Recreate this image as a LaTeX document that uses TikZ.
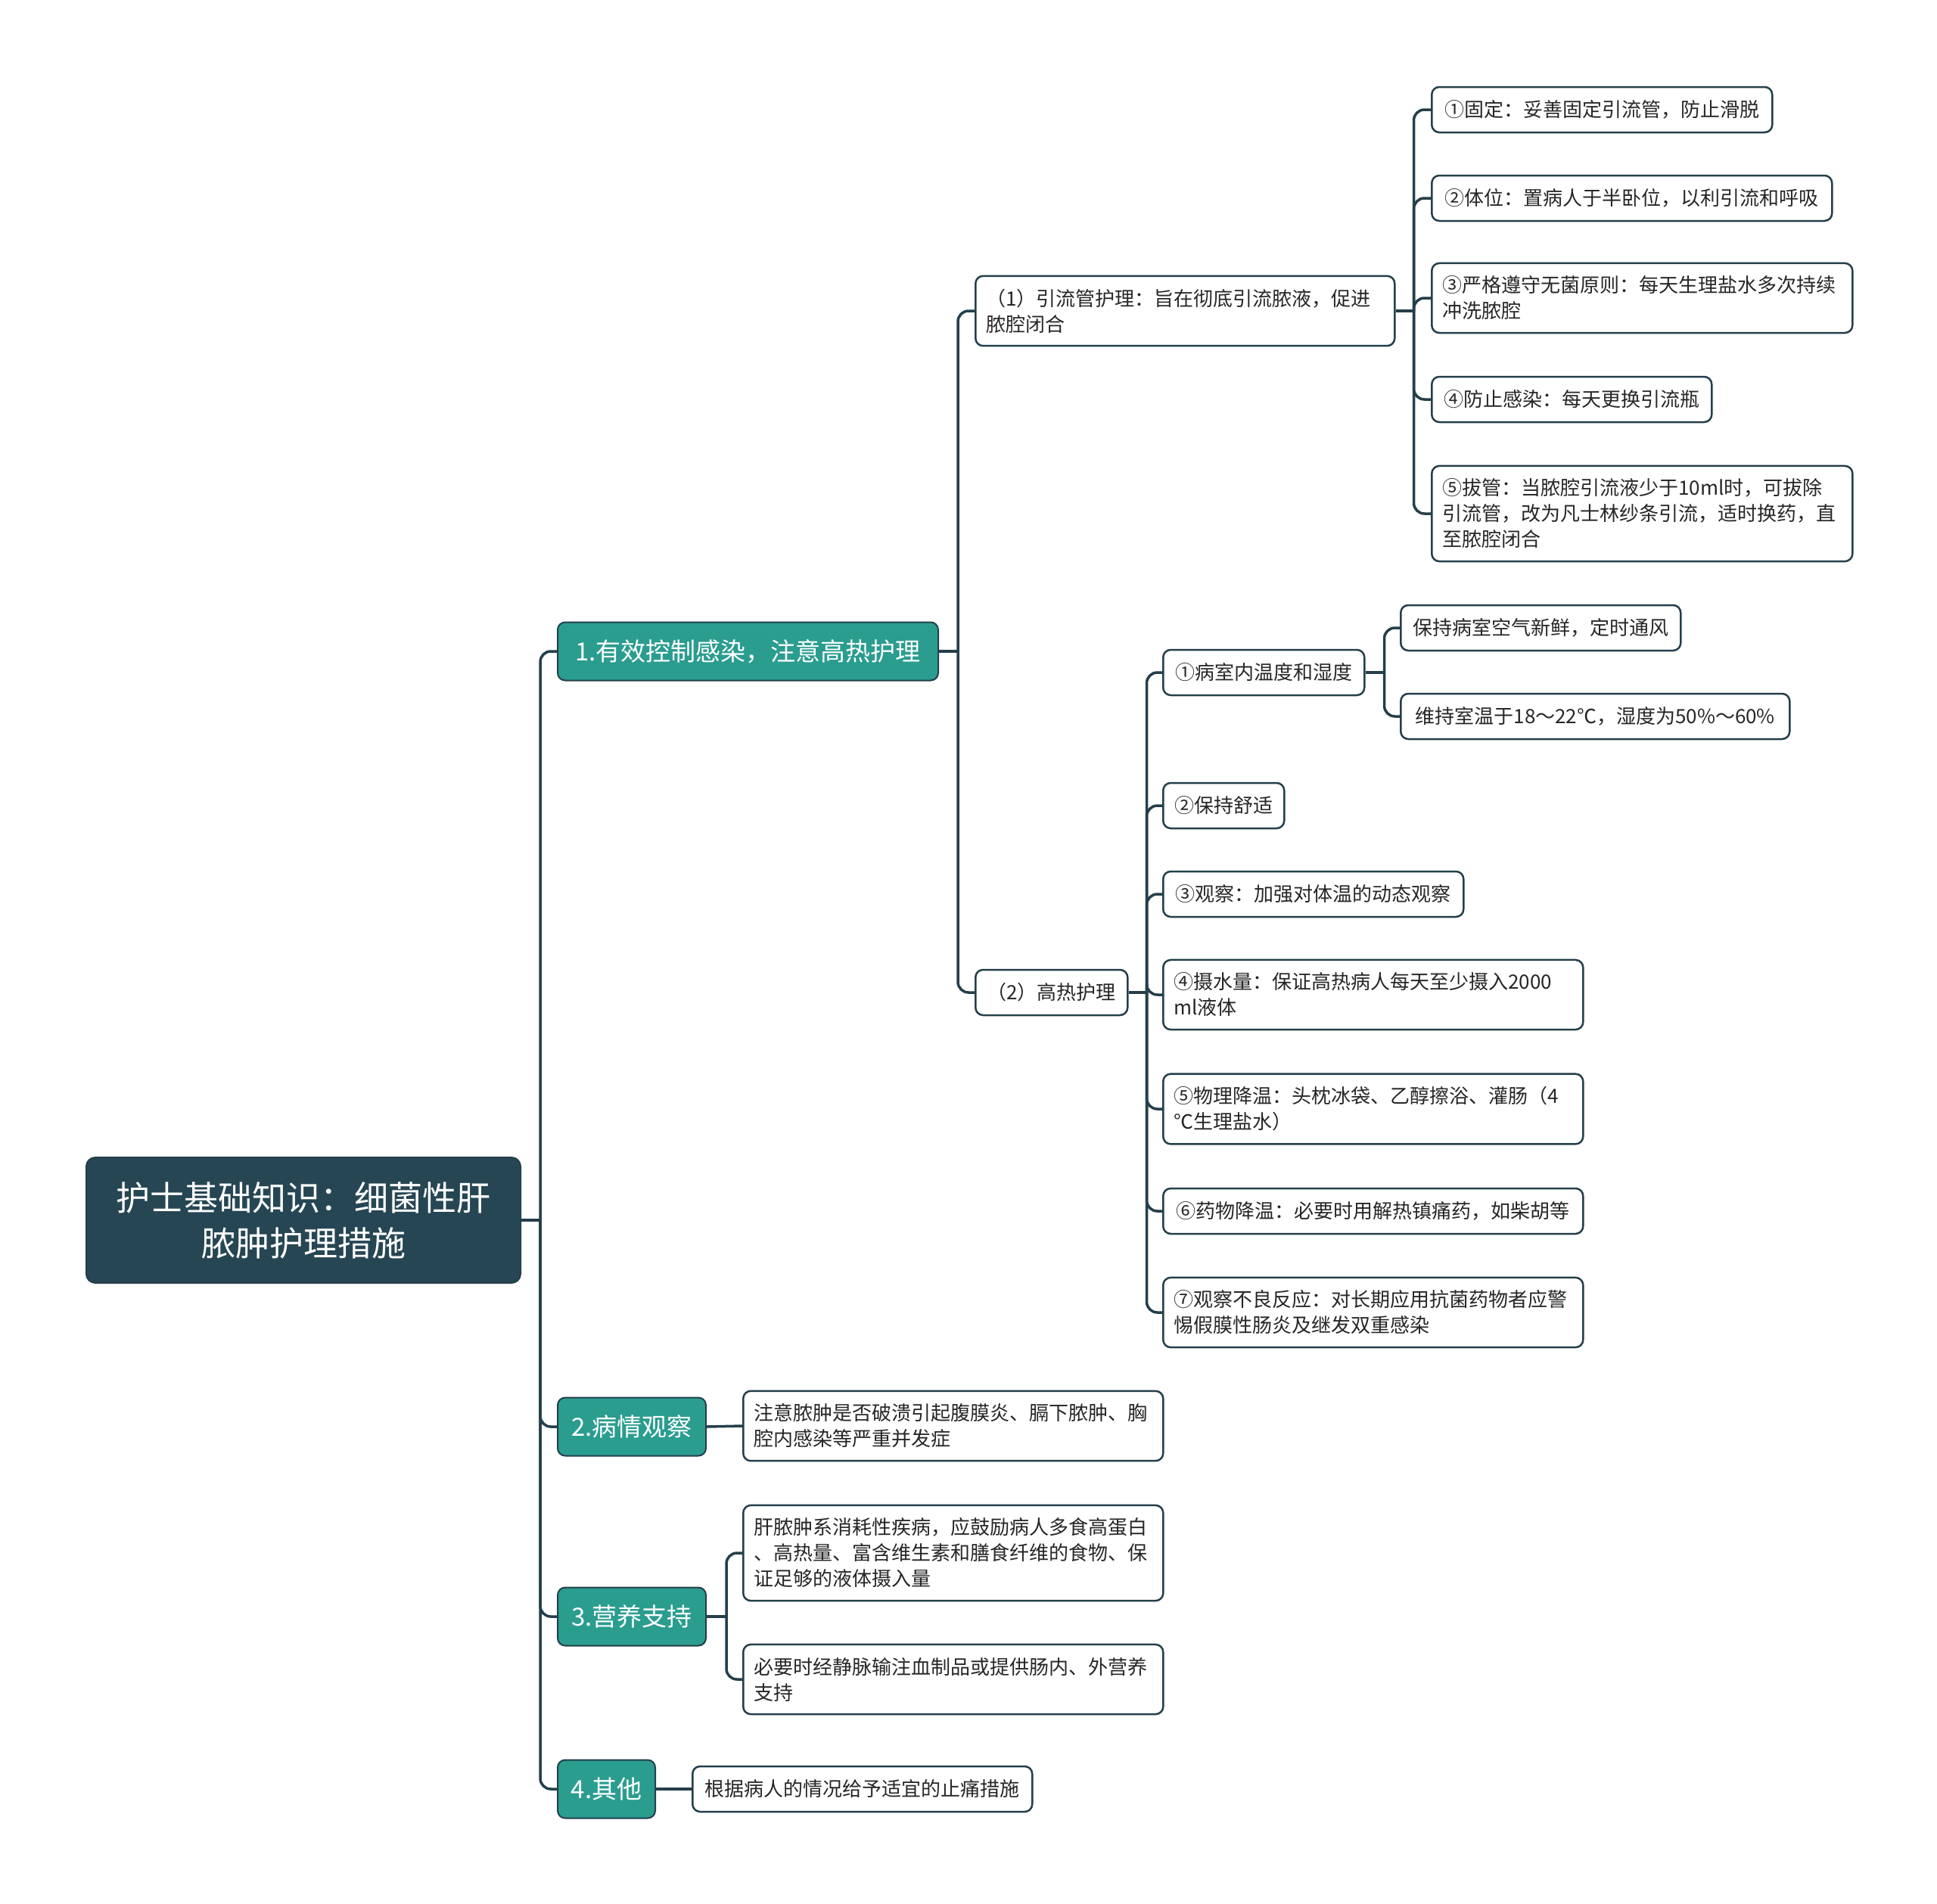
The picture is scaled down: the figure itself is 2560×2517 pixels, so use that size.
\documentclass[tikz,border=0pt]{standalone}
\usepackage{fontspec}
\setmainfont{Noto Sans CJK SC}
\usepackage{tikz}
\usetikzlibrary{
  calc,
  positioning
}
\definecolor{rootblue}{HTML}{264653}
\definecolor{topicteal}{HTML}{2A9D8F}
\definecolor{linedark}{HTML}{243F4B}
\definecolor{leaftext}{HTML}{262626}

\begin{document}
\begin{tikzpicture}[x=1pt,y=-1pt]
  \tikzset{
    rootbox/.style={
      fill=rootblue, draw=linedark, line width=2pt, rounded corners=12pt,
      text=white, font=\fontsize{45}{60}\selectfont, align=center,
      inner xsep=17pt, text width=540pt, minimum height=166pt, anchor=west
    },
    topicbox/.style={
      fill=topicteal, draw=linedark, line width=2pt, rounded corners=10pt,
      text=white, font=\fontsize{33}{40}\selectfont,
      inner xsep=16pt, minimum height=77pt, anchor=west
    },
    leafbox/.style={
      fill=white, draw=linedark, line width=2.5pt, rounded corners=10pt,
      text=leaftext, font=\fontsize{26}{34}\selectfont, align=left,
      inner xsep=14pt, inner ysep=17pt, minimum height=60pt, anchor=west
    },
    link/.style={draw=linedark, line width=3.5pt, rounded corners=14pt}
  }
\useasboundingbox (0,0) rectangle (2560,2517);

% root
\node[rootbox] (root) at (113,1613) {护士基础知识：细菌性肝\\脓肿护理措施};

% main topics
\node[topicbox, minimum width=503pt] (t1) at (736,861) {1.有效控制感染，注意高热护理};
\node[topicbox, minimum width=196pt] (t2) at (736,1886) {2.病情观察};
\node[topicbox, minimum width=196pt] (t3) at (736,2137) {3.营养支持};
\node[topicbox, minimum width=129pt] (t4) at (736,2365) {4.其他};

% topic 1
\node[leafbox, text width=526pt] (d1) at (1288,411) {（1）引流管护理：旨在彻底引流脓液，促进\\脓腔闭合};
\node[leafbox, minimum width=201pt] (d2) at (1288,1312) {（2）高热护理};

\node[leafbox, minimum width=450pt] (a1) at (1891,145) {①固定：妥善固定引流管，防止滑脱};
\node[leafbox, minimum width=529pt] (a2) at (1891,262) {②体位：置病人于半卧位，以利引流和呼吸};
\node[leafbox, text width=528pt] (a3) at (1891,394) {③严格遵守无菌原则：每天生理盐水多次持续\\冲洗脓腔};
\node[leafbox, minimum width=370pt] (a4) at (1891,528) {④防止感染：每天更换引流瓶};
\node[leafbox, text width=528pt] (a5) at (1891,679) {⑤拔管：当脓腔引流液少于10ml时，可拔除\\引流管，改为凡士林纱条引流，适时换药，直\\至脓腔闭合};

\node[leafbox, minimum width=266pt] (h1) at (1536,889) {①病室内温度和湿度};
\node[leafbox, minimum width=370pt] (h1a) at (1850,830) {保持病室空气新鲜，定时通风};
\node[leafbox, minimum width=514pt] (h1b) at (1850,947) {维持室温于18～22℃，湿度为50\%～60\%};
\node[leafbox, minimum width=160pt] (h2) at (1536,1065) {②保持舒适};
\node[leafbox, minimum width=397pt] (h3) at (1536,1182) {③观察：加强对体温的动态观察};
\node[leafbox, text width=527pt] (h4) at (1536,1315) {④摄水量：保证高热病人每天至少摄入2000\\ml液体};
\node[leafbox, text width=527pt] (h5) at (1536,1466) {⑤物理降温：头枕冰袋、乙醇擦浴、灌肠（4\\℃生理盐水）};
\node[leafbox, minimum width=555pt] (h6) at (1536,1601) {⑥药物降温：必要时用解热镇痛药，如柴胡等};
\node[leafbox, text width=527pt] (h7) at (1536,1735) {⑦观察不良反应：对长期应用抗菌药物者应警\\惕假膜性肠炎及继发双重感染};

% topics 2-4
\node[leafbox, text width=527pt] (obs) at (981,1885) {注意脓肿是否破溃引起腹膜炎、膈下脓肿、胸\\腔内感染等严重并发症};
\node[leafbox, text width=527pt] (nut1) at (981,2053) {肝脓肿系消耗性疾病，应鼓励病人多食高蛋白\\、高热量、富含维生素和膳食纤维的食物、保\\证足够的液体摄入量};
\node[leafbox, text width=527pt] (nut2) at (981,2220) {必要时经静脉输注血制品或提供肠内、外营养\\支持};
\node[leafbox, minimum width=449pt] (oth) at (914,2365) {根据病人的情况给予适宜的止痛措施};

% junctions
\coordinate (jr) at ([xshift=25pt]root.east);
\coordinate (j1) at ([xshift=25pt]t1.east);
\coordinate (jd1) at ([xshift=24pt]d1.east);
\coordinate (jd2) at ([xshift=24pt]d2.east);
\coordinate (jh1) at ([xshift=25pt]h1.east);
\coordinate (j3) at ([xshift=26pt]t3.east);

% connectors
\draw[link] (root.east) -- (jr);
\foreach \c in {t1,t2,t3,t4} \draw[link] (jr) |- (\c.west);

\draw[link] (t1.east) -- (j1);
\foreach \c in {d1,d2} \draw[link] (j1) |- (\c.west);

\draw[link] (d1.east) -- (jd1);
\foreach \c in {a1,a2,a3,a4,a5} \draw[link] (jd1) |- (\c.west);

\draw[link] (d2.east) -- (jd2);
\foreach \c in {h1,h2,h3,h4,h5,h6,h7} \draw[link] (jd2) |- (\c.west);

\draw[link] (h1.east) -- (jh1);
\foreach \c in {h1a,h1b} \draw[link] (jh1) |- (\c.west);

\draw[link] (t2.east) -- (obs.west);
\draw[link] (t3.east) -- (j3);
\foreach \c in {nut1,nut2} \draw[link] (j3) |- (\c.west);
\draw[link] (t4.east) -- (oth.west);

\end{tikzpicture}
\end{document}
